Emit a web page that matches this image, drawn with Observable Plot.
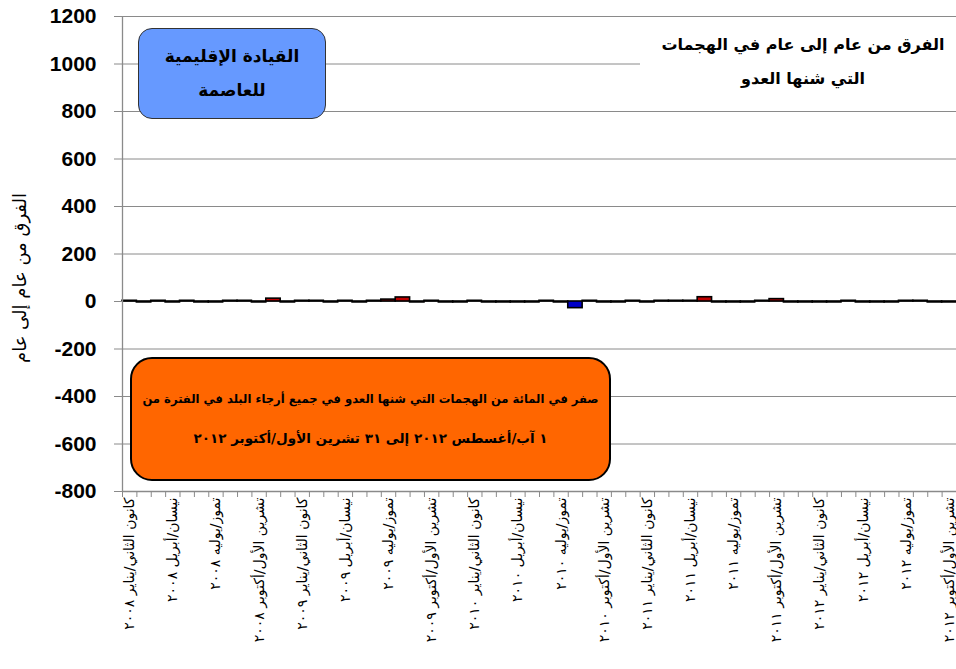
<!DOCTYPE html>
<html><head><meta charset="utf-8">
<script src="https://cdn.jsdelivr.net/npm/d3@7"></script>
<script src="https://cdn.jsdelivr.net/npm/@observablehq/plot@0.6"></script>
<style>
body{margin:0;background:#fff;}
#wrap{position:relative;width:956px;height:669px;overflow:hidden;font-family:"DejaVu Sans",sans-serif;}
.ov{position:absolute;box-sizing:border-box;text-align:center;direction:rtl;color:#000;white-space:nowrap;}
</style></head>
<body><div id="wrap"></div>
<script>
// Months from Jan 2008 to Oct 2012 (58 monthly categories), index 0..57
const monthIndex = d3.range(58);
// Year-on-year difference in enemy-initiated attacks (Capital Regional Command)
const values = [3,-4,3,-4,3,-4,-4,3,3,-4,12,-4,3,3,-4,3,-4,3,8,17,-4,3,-4,-4,3,-4,-4,-4,-4,3,-4,-28,3,-4,-4,3,-4,3,3,3,18,-4,-4,-4,3,10,-4,-4,-4,-4,3,-4,-4,-4,3,3,-4,-4];
// Tick labels every third month
const tickLabels = [
 "كانون الثاني/يناير ٢٠٠٨","نيسان/أبريل ٢٠٠٨","تموز/يوليه ٢٠٠٨","تشرين الأول/أكتوبر ٢٠٠٨",
 "كانون الثاني/يناير ٢٠٠٩","نيسان/أبريل ٢٠٠٩","تموز/يوليه ٢٠٠٩","تشرين الأول/أكتوبر ٢٠٠٩",
 "كانون الثاني/يناير ٢٠١٠","نيسان/أبريل ٢٠١٠","تموز/يوليه ٢٠١٠","تشرين الأول/أكتوبر ٢٠١٠",
 "كانون الثاني/يناير ٢٠١١","نيسان/أبريل ٢٠١١","تموز/يوليه ٢٠١١","تشرين الأول/أكتوبر ٢٠١١",
 "كانون الثاني/يناير ٢٠١٢","نيسان/أبريل ٢٠١٢","تموز/يوليه ٢٠١٢","تشرين الأول/أكتوبر ٢٠١٢"
];
const yTicks = [-800,-600,-400,-200,0,200,400,600,800,1000,1200];
const yLabel = "الفرق من عام إلى عام";
const titleLines = ["الفرق من عام إلى عام في الهجمات","التي شنها العدو"];
const commandLines = ["القيادة الإقليمية","للعاصمة"];
const noteLines = ["صفر في المائة من الهجمات التي شنها العدو في جميع أرجاء البلد في الفترة من","١ آب/أغسطس ٢٠١٢ إلى ٣١ تشرين الأول/أكتوبر ٢٠١٢"];

const data = monthIndex.map(i => ({i, v: values[i]}));
const labelPos = tickLabels.map((_, k) => k * 3 + 0.5);

const chart = Plot.plot({
  width: 956, height: 669,
  marginLeft: 122, marginRight: 0, marginTop: 16, marginBottom: 178,
  x: {domain: [0, 58]},
  y: {domain: [-800, 1200]},
  style: {fontFamily: "DejaVu Sans, sans-serif", background: "white"},
  marks: [
    Plot.gridY(yTicks, {stroke: "#8a8a8a", strokeOpacity: 1}),
    Plot.rectY(data, {x1: "i", x2: d => d.i + 1, y: "v",
      fill: d => d.v >= 0 ? "#c00000" : "#0000c8", stroke: "black", strokeWidth: 1.6}),
    Plot.ruleX([0], {stroke: "#8a8a8a", strokeWidth: 1.3}),
    Plot.ruleY([-800], {stroke: "#8a8a8a", strokeWidth: 1.3}),
    Plot.axisY(yTicks, {tickSize: 8, tickPadding: 18, stroke: "#8a8a8a", fill: "black",
      fontSize: 21, fontWeight: "bold", fontFamily: "Liberation Sans, sans-serif", label: null,
      tickFormat: d => String(d)}),
    Plot.axisX(d3.range(59), {tickSize: 6, stroke: "#8a8a8a", tickFormat: () => "", label: null}),
    Plot.axisX(labelPos, {tickSize: 0, tickPadding: 6, tickRotate: -90, fill: "black",
      fontSize: 14, tickFormat: d => tickLabels[Math.round((d - 0.5) / 3)], label: null})
  ]
});
const wrap = document.getElementById("wrap");
wrap.appendChild(chart);

function ov(html, css){ const d = document.createElement("div"); d.className = "ov"; d.innerHTML = html; d.style.cssText += css; wrap.appendChild(d); return d; }
// y-axis title
ov(yLabel, "left:-90px;top:266px;width:220px;height:24px;line-height:24px;font-size:18px;transform:rotate(-90deg);");
// chart title (white panel)
ov(titleLines.join("<br>"), "left:640px;top:20px;width:316px;height:82px;background:#fff;font-weight:bold;font-size:16px;line-height:34px;padding-top:8px;padding-left:10px;");
// command box
ov(commandLines.join("<br>"), "left:138px;top:28px;width:188px;height:91px;background:#6699ff;border:1.5px solid #333;border-radius:14px;font-weight:bold;font-size:17px;line-height:34px;padding-top:10px;");
// note box
ov(`<div style="font-size:11.6px">${noteLines[0]}</div><div style="font-size:13.5px">${noteLines[1]}</div>`,
   "left:130px;top:357px;width:481px;height:124px;background:#ff6600;border:2px solid #000;border-radius:22px;font-weight:bold;line-height:39px;padding-top:21px;");
</script></body></html>
